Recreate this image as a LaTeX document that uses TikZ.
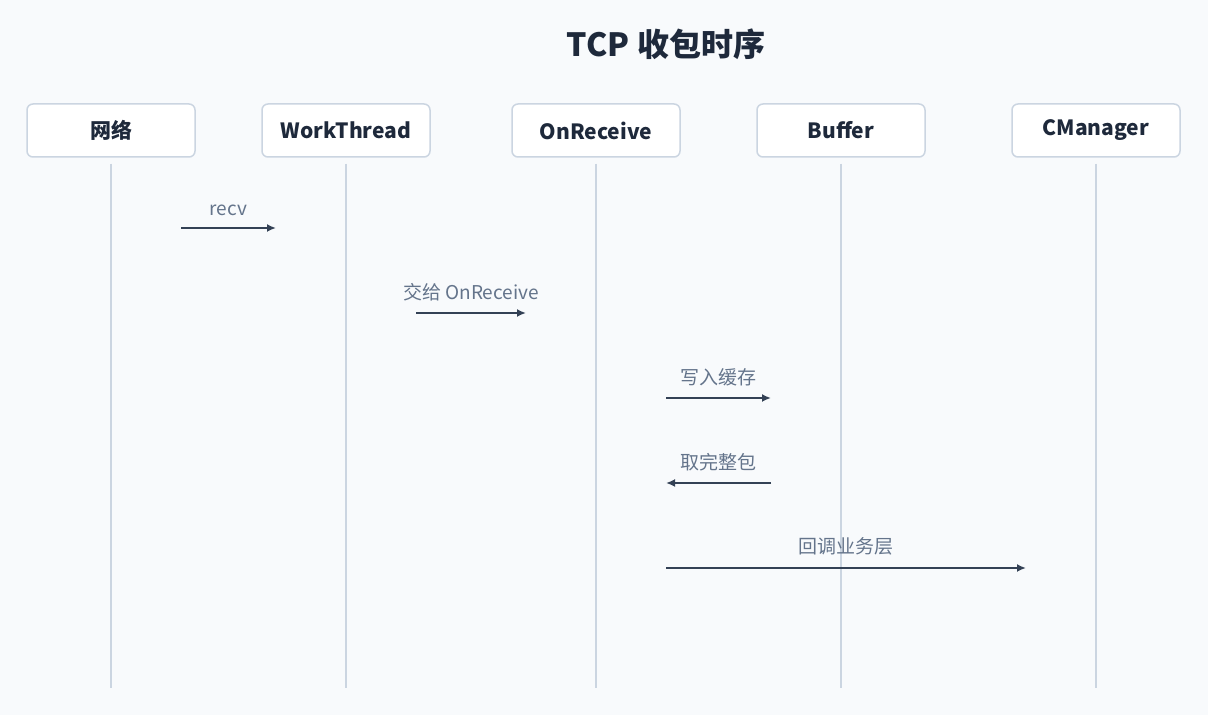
\documentclass[tikz,border=0pt]{standalone}
\usepackage{fontspec}
\setmainfont{Noto Sans CJK SC}
\usetikzlibrary{arrows.meta}
\definecolor{bg}{HTML}{F8FAFC}
\definecolor{bd}{HTML}{CBD5E1}
\definecolor{tx}{HTML}{1E293B}
\definecolor{lb}{HTML}{64748B}
\definecolor{ar}{HTML}{334155}
\begin{document}
\begin{tikzpicture}[x=1pt,y=1pt,
  box/.style={draw=bd,line width=1.5pt,fill=white,rounded corners=6pt,minimum width=168pt,minimum height=53pt,font=\fontsize{21}{24}\selectfont\bfseries,text=tx},
  life/.style={draw=bd,line width=1.5pt},
  msg/.style={draw=ar,line width=2pt,-{Latex[length=9pt,width=8pt]}},
  lab/.style={font=\fontsize{19}{22}\selectfont,text=lb}]
\fill[bg] (0,0) rectangle (1208,715);
\useasboundingbox (0,0) rectangle (1208,715);
\node[font=\fontsize{32}{36}\selectfont\bfseries,text=tx] (title) at (666,671) {TCP 收包时序};
\foreach \n/\x/\t in {a/111/网络,b/346/WorkThread,c/596/OnReceive,d/841/Buffer,e/1096/CManager}{
  \node[box] (\n) at (\x,584.5) {\t};
  \coordinate (\n e) at (\x,27);
  \draw[life] (\n.south) ++(0,-6) -- (\n e);
}
\coordinate (m1s) at (181,487); \coordinate (m1e) at (276,487);
\draw[msg] (m1s) -- (m1e) node[lab,midway,above=8pt] (l1) {recv};
\coordinate (m2s) at (416,402); \coordinate (m2e) at (526,402);
\draw[msg] (m2s) -- (m2e) node[lab,midway,above=8pt] (l2) {交给 OnReceive};
\coordinate (m3s) at (666,317); \coordinate (m3e) at (771,317);
\draw[msg] (m3s) -- (m3e) node[lab,midway,above=8pt] (l3) {写入缓存};
\coordinate (m4s) at (771,232); \coordinate (m4e) at (666,232);
\draw[msg] (m4s) -- (m4e) node[lab,midway,above=8pt] (l4) {取完整包};
\coordinate (m5s) at (666,147); \coordinate (m5e) at (1026,147);
\draw[msg] (m5s) -- (m5e) node[lab,midway,above=8pt] (l5) {回调业务层};
\end{tikzpicture}
\end{document}
